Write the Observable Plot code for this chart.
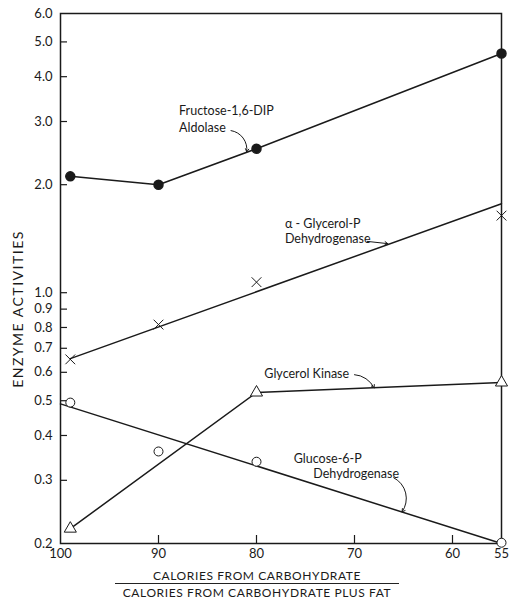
<!DOCTYPE html>
<html><head><meta charset="utf-8">
<script src="https://cdn.jsdelivr.net/npm/d3@7"></script>
<script src="https://cdn.jsdelivr.net/npm/@observablehq/plot@0.6"></script>
<style>
body{margin:0;background:#fff;font-family:Lato,"DejaVu Sans",sans-serif;color:#1a1a1a;}
#wrap{position:relative;width:518px;height:603px;}
#xt{position:absolute;top:569px;left:-2px;width:518px;text-align:center;font-size:12px;letter-spacing:0.6px;}
#xt .l1{line-height:14px;}
#xt .l2{display:inline-block;border-top:1.2px solid #222;padding:2px 8px 0 8px;line-height:14px;}
#yt{position:absolute;left:18px;top:309px;transform:translate(-50%,-50%) rotate(-90deg);white-space:nowrap;font-size:14px;letter-spacing:1.5px;line-height:16px;}
</style></head><body>
<div id="wrap"><div id="chart"></div>
<div id="yt">ENZYME ACTIVITIES</div>
<div id="xt"><div class="l1">CALORIES FROM CARBOHYDRATE</div><div class="l2">CALORIES FROM CARBOHYDRATE PLUS FAT</div></div>
</div>
<script>
// ---- data ----
const calories = [99, 90, 80, 55];
const aldolase = [2.11, 2.0, 2.52, 4.64];          // filled circles
const glycerolPDH = [0.652, 0.815, 1.07, 1.64];    // crosses
const glucose6PDH = [0.494, 0.361, 0.338, 0.201];  // open circles
const kinaseCalories = [99, 80, 55];
const glycerolKinase = [0.22, 0.527, 0.562];       // triangles
const glycerolPFitX = [99, 55];
const glycerolPFitY = [0.655, 1.77];
const glucoseFitX = [100, 55];
const glucoseFitY = [0.49, 0.2];
const yTicks = [0.2, 0.3, 0.4, 0.5, 0.6, 0.7, 0.8, 0.9, 1.0, 2.0, 3.0, 4.0, 5.0, 6.0];
const yInnerTicks = [0.3, 0.4, 0.5, 0.6, 0.7, 0.8, 0.9, 1.0, 2.0, 3.0, 4.0, 5.0];
const xTicks = [100, 90, 80, 70, 60, 55];
const xInnerTicks = [90, 80, 70, 60];
const annText = ["Fructose-1,6-DIP", "Aldolase", "α - Glycerol-P", "Dehydrogenase", "Glycerol Kinase", "Glucose-6-P", "Dehydrogenase"];
const annX = [87.9, 87.9, 77.1, 77.1, 79.2, 76.2, 74.2];
const annY = [3.20, 2.87, 1.55, 1.41, 0.595, 0.345, 0.313];
const arrX1 = [82.6, 68.7, 70.0, 66.0];
const arrY1 = [2.83, 1.39, 0.591, 0.305];
const arrX2 = [81.0, 66.6, 68.0, 65.15];
const arrY2 = [2.47, 1.37, 0.543, 0.245];
const arrBend = [45, 0, 30, 50];

const tbl = (xs, ys) => xs.map((x, i) => ({x, y: ys[i]}));
const ink = "#1a1a1a";
const W = 518, H = 565, mL = 60, mR = 17, mT = 13, mB = 22;

const arrows = arrX1.map((_, i) => Plot.arrow([i], {
  x1: j => arrX1[j], y1: j => arrY1[j], x2: j => arrX2[j], y2: j => arrY2[j],
  bend: arrBend[i], headLength: 5, stroke: ink, strokeWidth: 1
}));

const plot = Plot.plot({
  width: W, height: H, marginLeft: mL, marginRight: mR, marginTop: mT, marginBottom: mB,
  style: {fontFamily: "Lato, 'DejaVu Sans', sans-serif", fontSize: "12px", color: ink, background: "white"},
  x: {type: "linear", domain: [100, 55], axis: null},
  y: {type: "log", domain: [0.2, 6], axis: null},
  marks: [
    Plot.text(yTicks, {y: d => d, frameAnchor: "left", dx: -8, textAnchor: "end", text: d3.format(".1f"), fontSize: 13, fill: ink}),
    Plot.text(xTicks, {x: d => d, frameAnchor: "bottom", dy: 14, text: d => String(d), fontSize: 13, fill: ink}),
    Plot.tickY(yInnerTicks, {y: d => d, insetRight: W - mL - mR - 7, stroke: ink, strokeWidth: 1.2}),
    Plot.tickX(xInnerTicks, {x: d => d, insetTop: H - mT - mB - 8, stroke: ink, strokeWidth: 1.2}),
    Plot.frame({stroke: ink, strokeWidth: 1.5}),
    Plot.line(tbl(calories, aldolase), {x: "x", y: "y", stroke: ink, strokeWidth: 1.5}),
    Plot.line(tbl(glycerolPFitX, glycerolPFitY), {x: "x", y: "y", stroke: ink, strokeWidth: 1.5}),
    Plot.line(tbl(kinaseCalories, glycerolKinase), {x: "x", y: "y", stroke: ink, strokeWidth: 1.5}),
    Plot.line(tbl(glucoseFitX, glucoseFitY), {x: "x", y: "y", stroke: ink, strokeWidth: 1.5}),
    Plot.dot(tbl(calories, aldolase), {x: "x", y: "y", r: 4.5, fill: ink, stroke: ink}),
    Plot.dot(tbl(calories, glycerolPDH), {x: "x", y: "y", symbol: "times", r: 4.5, stroke: ink, strokeWidth: 1}),
    Plot.dot(tbl(kinaseCalories, glycerolKinase), {x: "x", y: "y", symbol: "triangle", r: 4.5, fill: "white", stroke: ink, strokeWidth: 1}),
    Plot.dot(tbl(calories, glucose6PDH), {x: "x", y: "y", symbol: "circle", r: 4.5, fill: "white", stroke: ink, strokeWidth: 1}),
    Plot.text(annText, {x: (d, i) => annX[i], y: (d, i) => annY[i], text: d => d, textAnchor: "start", fontSize: 12.5, fill: ink}),
    ...arrows
  ]
});
document.getElementById("chart").appendChild(plot);
</script></body></html>
